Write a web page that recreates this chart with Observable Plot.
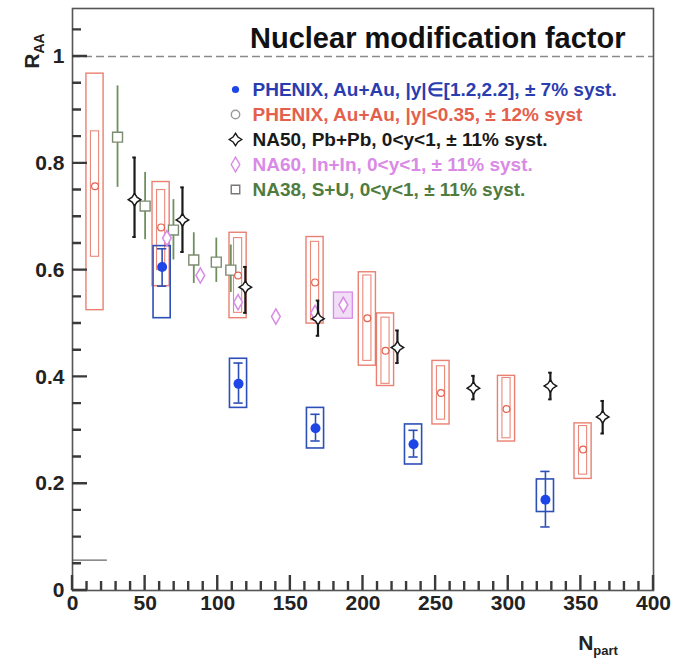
<!DOCTYPE html>
<html>
<head>
<meta charset="utf-8">
<script src="https://cdn.jsdelivr.net/npm/d3@7"></script>
<script src="https://cdn.jsdelivr.net/npm/@observablehq/plot@0.6"></script>
<style>
  body { margin: 0; background: #fff; }
  #chart { width: 674px; height: 659px; }
</style>
</head>
<body>
<div id="chart"></div>
<script>
// PHENIX Au+Au, forward rapidity |y| in [1.2, 2.2]
const fwdNpart  = [61.7, 114.3, 167.3, 234.8, 325.6];
const fwdRaa    = [0.606, 0.387, 0.304, 0.274, 0.170];
const fwdStatLo = [0.57, 0.351, 0.28, 0.25, 0.119];
const fwdStatHi = [0.64, 0.426, 0.33, 0.30, 0.223];
const fwdSystLo = [0.51, 0.342, 0.266, 0.236, 0.147];
const fwdSystHi = [0.645, 0.434, 0.342, 0.311, 0.208];

// PHENIX Au+Au, mid rapidity |y| < 0.35
const midNpart  = [15.5, 61, 114, 167, 203, 215.5, 253.7, 298.8, 351.5];
const midRaa    = [0.757, 0.68, 0.59, 0.577, 0.51, 0.449, 0.37, 0.34, 0.264];
const midStatLo = [0.625, 0.60, 0.52, 0.506, 0.43, 0.387, 0.32, 0.285, 0.217];
const midStatHi = [0.86, 0.75, 0.66, 0.653, 0.59, 0.511, 0.42, 0.398, 0.308];
const midSystLo = [0.525, 0.57, 0.51, 0.50, 0.421, 0.383, 0.311, 0.279, 0.209];
const midSystHi = [0.968, 0.765, 0.67, 0.662, 0.596, 0.519, 0.43, 0.402, 0.313];

// NA50 Pb+Pb, 0<y<1
const na50Npart = [42.7, 75.7, 119, 169, 223.7, 276, 329, 365];
const na50Raa   = [0.732, 0.694, 0.568, 0.509, 0.455, 0.379, 0.383, 0.325];
const na50Lo    = [0.662, 0.634, 0.52, 0.477, 0.426, 0.358, 0.358, 0.294];
const na50Hi    = [0.811, 0.755, 0.606, 0.543, 0.487, 0.402, 0.408, 0.355];

// NA60 In+In, 0<y<1
const na60Npart = [65, 88, 114, 140, 167, 186.5];
const na60Raa   = [0.66, 0.59, 0.54, 0.513, 0.52, 0.535];
const na60BoxLo = [null, null, null, null, null, 0.509];
const na60BoxHi = [null, null, null, null, null, 0.558];

// NA38 S+U, 0<y<1
const na38Npart = [31, 50, 69.5, 83.5, 99, 109];
const na38Raa   = [0.849, 0.72, 0.675, 0.619, 0.615, 0.60];
const na38Lo    = [0.755, 0.657, 0.619, 0.575, 0.577, 0.558];
const na38Hi    = [0.945, 0.783, 0.732, 0.67, 0.66, 0.647];

// axis ticks
const xTicks = [0, 50, 100, 150, 200, 250, 300, 350, 400];
const xTickLabels = ["0", "50", "100", "150", "200", "250", "300", "350", "400"];
const yTicks = [0, 0.2, 0.4, 0.6, 0.8, 1];
const yTickLabels = ["0", "0.2", "0.4", "0.6", "0.8", "1"];
const xMinorTicks = d3.range(0, 401, 10);
const yMinorTicks = d3.range(0, 1.09, 0.05);

// short reference level at lower left
const refLevel = 0.057;
const refLevelEnd = 24;

const legendLabels = [
  "PHENIX, Au+Au, |y|\u2208[1.2,2.2], \u00b1 7% syst.",
  "PHENIX, Au+Au, |y|<0.35, \u00b1 12% syst",
  "NA50, Pb+Pb, 0<y<1, \u00b1 11% syst.",
  "NA60, In+In, 0<y<1, \u00b1 11% syst.",
  "NA38, S+U, 0<y<1, \u00b1 11% syst."
];

// ---- table building ----
const fwd = fwdNpart.map((n, i) => ({n, r: fwdRaa[i], lo: fwdStatLo[i], hi: fwdStatHi[i], slo: fwdSystLo[i], shi: fwdSystHi[i]}));
const mid = midNpart.map((n, i) => ({n, r: midRaa[i], lo: midStatLo[i], hi: midStatHi[i], slo: midSystLo[i], shi: midSystHi[i]}));
const na50 = na50Npart.map((n, i) => ({n, r: na50Raa[i], lo: na50Lo[i], hi: na50Hi[i]}));
const na60 = na60Npart.map((n, i) => ({n, r: na60Raa[i], slo: na60BoxLo[i], shi: na60BoxHi[i]}));
const na60Boxes = na60.filter(d => d.slo != null);
const na38 = na38Npart.map((n, i) => ({n, r: na38Raa[i], lo: na38Lo[i], hi: na38Hi[i]}));

// colours
const cBlue = "#1e46e6", cBlueBox = "#2d4fb8";
const cRed = "#e4604c";
const cBlack = "#1a1a1a";
const cMagenta = "#d98ae6";
const cGreen = "#6f8f5e";
const cGreenTxt = "#4f7c3e";
const cFrame = "#555";
const cTick = "#3a3a3a";

// four-pointed open star used for NA50
const star4 = {
  draw(context, size) {
    const R = Math.sqrt(size / Math.PI) * 1.25;
    const k = 0.55;
    for (let i = 0; i < 8; i++) {
      const a = i * Math.PI / 4 - Math.PI / 2;
      const rr = i % 2 ? R * k : R;
      const x = rr * Math.cos(a), y = rr * Math.sin(a);
      if (i) context.lineTo(x, y); else context.moveTo(x, y);
    }
    context.closePath();
  }
};

const tickMajor = 15, tickMinor = 9;  // inward tick lengths, px

const boxHalf = 5.9;   // half width of systematic boxes, Npart units
const statHalf = 2.8;  // half width of mid-rapidity stat boxes
const capHalf = 3.2;

const font = "'Liberation Sans', Arial, Helvetica, sans-serif";

const legendStyle = [
  {fill: cBlue, stroke: "none", symbol: "circle", r: 3.6, text: "#2a3db0"},
  {fill: "white", stroke: "#9a9a9a", symbol: "circle", r: 4.2, text: cRed},
  {fill: "white", stroke: cBlack, symbol: star4, r: 5, text: cBlack},
  {fill: "white", stroke: cMagenta, symbol: "diamond", r: 4.5, text: cMagenta},
  {fill: "white", stroke: "#777", symbol: "square", r: 4.8, text: cGreenTxt}
];
const legendTop = 81, legendStep = 25;

const legendMarks = legendLabels.flatMap((label, i) => [
  Plot.dot([label], {frameAnchor: "top-left", dx: 163, dy: legendTop + i * legendStep,
    symbol: legendStyle[i].symbol, r: legendStyle[i].r, fill: legendStyle[i].fill,
    stroke: legendStyle[i].stroke, strokeWidth: 1.4}),
  Plot.text([label], {frameAnchor: "top-left", dx: 180, dy: legendTop + i * legendStep,
    text: d => d, textAnchor: "start", lineAnchor: "middle", fontSize: 19, fontWeight: "bold",
    fill: legendStyle[i].text})
]);

const chart = Plot.plot({
  width: 674,
  height: 659,
  marginLeft: 72,
  marginRight: 21,
  marginTop: 8,
  marginBottom: 69,
  x: {domain: [0, 400]},
  y: {domain: [0, 1.09]},
  style: {fontFamily: font, background: "#fff", color: "#222"},
  marks: [
    // tick labels
    Plot.axisY(yTicks, {tickSize: 0, tickPadding: 8, label: null, fontSize: 21, fontWeight: "bold",
      fill: "#222", tickFormat: d => yTickLabels[yTicks.indexOf(d)]}),
    Plot.axisX(xTicks, {tickSize: 0, tickPadding: 5, label: null, fontSize: 21, fontWeight: "bold",
      fill: "#222", tickFormat: d => xTickLabels[xTicks.indexOf(d)]}),

    // unity line and low reference mark
    Plot.ruleY([1], {stroke: "#8a8a8a", strokeWidth: 1.6, strokeDasharray: "8,4"}),
    Plot.ruleY([refLevel], {x1: 0, x2: refLevelEnd, stroke: "#666", strokeWidth: 1.3}),

    // PHENIX mid rapidity: systematic boxes, stat boxes
    Plot.rect(mid, {x1: d => d.n - boxHalf, x2: d => d.n + boxHalf, y1: "slo", y2: "shi",
      fill: "none", stroke: cRed, strokeOpacity: 0.8, strokeWidth: 1.4}),
    Plot.rect(mid, {x1: d => d.n - statHalf, x2: d => d.n + statHalf, y1: "lo", y2: "hi",
      fill: "none", stroke: cRed, strokeOpacity: 0.75, strokeWidth: 1.1}),

    // NA60 box
    Plot.rect(na60Boxes, {x1: d => d.n - 6.5, x2: d => d.n + 6.5, y1: "slo", y2: "shi",
      fill: "#f1ddf6", stroke: cMagenta, strokeWidth: 1.3}),

    // PHENIX forward: systematic boxes
    Plot.rect(fwd, {x1: d => d.n - boxHalf, x2: d => d.n + boxHalf, y1: "slo", y2: "shi",
      fill: "none", stroke: cBlueBox, strokeWidth: 1.6}),

    // NA38 error bars and points
    Plot.ruleX(na38, {x: "n", y1: "lo", y2: "hi", stroke: cGreen, strokeWidth: 1.8}),
    Plot.dot(na38, {x: "n", y: "r", symbol: "square", r: 5.6, fill: "white", stroke: "#7b8b70", strokeWidth: 1.4}),

    // NA60 points
    Plot.dot(na60, {x: "n", y: "r", symbol: "diamond", r: 4.6, fill: "white", stroke: cMagenta, strokeWidth: 1.5}),

    // PHENIX mid points
    Plot.dot(mid, {x: "n", y: "r", r: 3.4, fill: "white", stroke: cRed, strokeWidth: 1.2}),

    // NA50 error bars and points
    Plot.ruleX(na50, {x: "n", y1: "lo", y2: "hi", stroke: cBlack, strokeWidth: 2.2}),
    Plot.ruleY(na50, {y: "lo", x1: d => d.n - 1.2, x2: d => d.n + 1.2, stroke: cBlack, strokeWidth: 2}),
    Plot.ruleY(na50, {y: "hi", x1: d => d.n - 1.2, x2: d => d.n + 1.2, stroke: cBlack, strokeWidth: 2}),
    Plot.dot(na50, {x: "n", y: "r", symbol: star4, r: 5, fill: "white", stroke: cBlack, strokeWidth: 1.5}),

    // PHENIX forward stat error bars and points
    Plot.ruleX(fwd, {x: "n", y1: "lo", y2: "hi", stroke: cBlueBox, strokeWidth: 1.6}),
    Plot.ruleY(fwd, {y: "lo", x1: d => d.n - capHalf, x2: d => d.n + capHalf, stroke: cBlueBox, strokeWidth: 1.6}),
    Plot.ruleY(fwd, {y: "hi", x1: d => d.n - capHalf, x2: d => d.n + capHalf, stroke: cBlueBox, strokeWidth: 1.6}),
    Plot.dot(fwd, {x: "n", y: "r", r: 5, fill: cBlue, stroke: "none"}),

    // title and legend
    Plot.text(["Nuclear modification factor"], {frameAnchor: "top-right", dx: -28, dy: 30,
      text: d => d, textAnchor: "end", lineAnchor: "middle", fontSize: 29, fontWeight: "bold", fill: "#111"}),
    ...legendMarks,

    Plot.frame({stroke: cFrame, strokeWidth: 1.6})
  ]
});

document.getElementById("chart").appendChild(chart);

const svg = d3.select(chart);
const sx = chart.scale("x"), sy = chart.scale("y");
const x0 = sx.apply(0), y0 = sy.apply(0);

// inward ticks along the left and bottom edges, as one path placed through the plot's scales
const tickPath = d3.path();
for (const v of yMinorTicks) { const y = sy.apply(v); tickPath.moveTo(x0, y); tickPath.lineTo(x0 + tickMinor, y); }
for (const v of yTicks) { const y = sy.apply(v); tickPath.moveTo(x0, y); tickPath.lineTo(x0 + tickMajor, y); }
for (const v of xMinorTicks) { const x = sx.apply(v); tickPath.moveTo(x, y0); tickPath.lineTo(x, y0 - tickMinor); }
for (const v of xTicks) { const x = sx.apply(v); tickPath.moveTo(x, y0); tickPath.lineTo(x, y0 - tickMajor); }
svg.append("path")
  .attr("d", tickPath.toString())
  .attr("fill", "none")
  .attr("stroke", cTick)
  .attr("stroke-width", 2.4);

// axis titles with subscripts
const yTitle = svg.append("text")
  .attr("transform", "translate(39,51) rotate(-90)")
  .attr("font-family", font).attr("font-weight", "bold").attr("fill", "#222");
yTitle.append("tspan").attr("font-size", 21).text("R");
yTitle.append("tspan").attr("font-size", 14).attr("dy", 5).text("AA");

const xTitle = svg.append("text")
  .attr("transform", "translate(598,650)")
  .attr("font-family", font).attr("font-weight", "bold").attr("fill", "#222");
xTitle.append("tspan").attr("font-size", 21).text("N");
xTitle.append("tspan").attr("font-size", 13).attr("dy", 5).text("part");
</script>
</body>
</html>
